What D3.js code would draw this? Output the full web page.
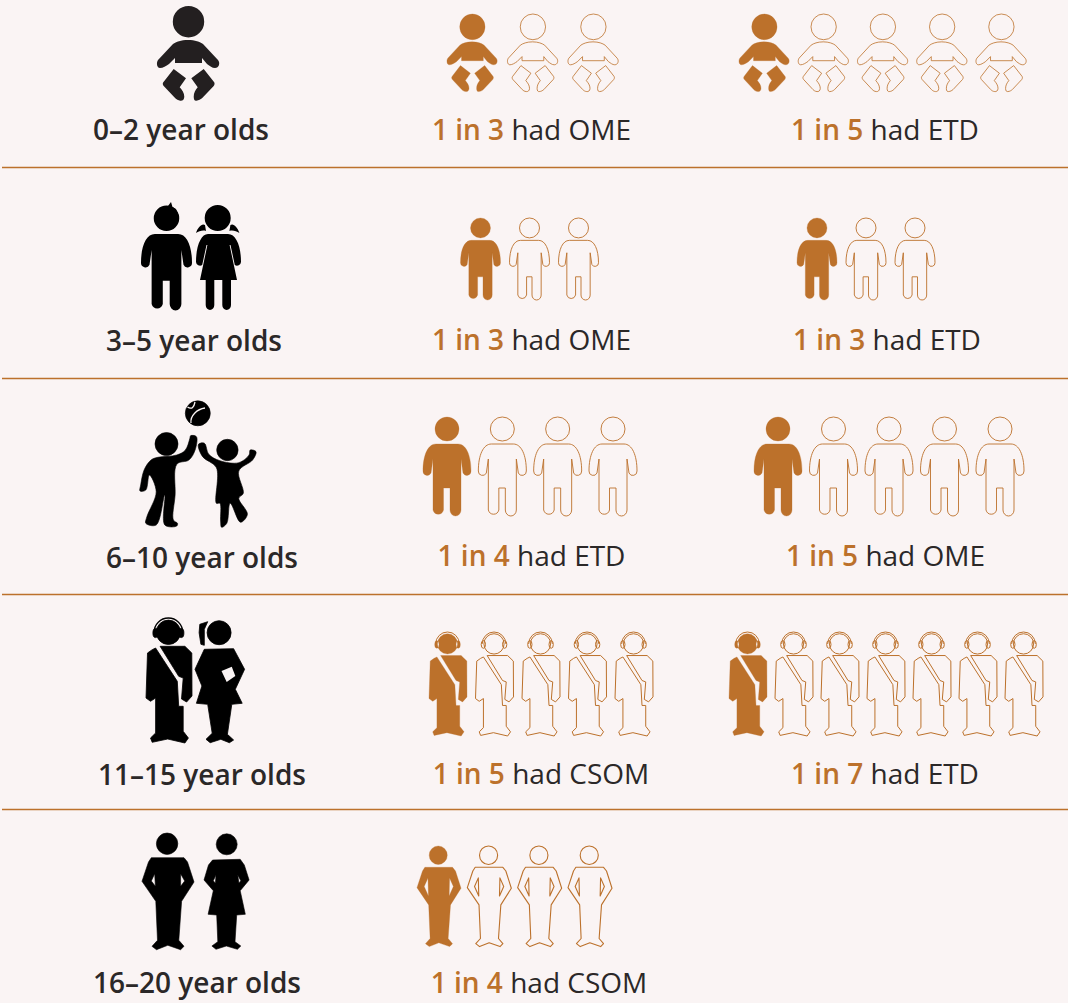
<!DOCTYPE html>
<meta charset="utf-8">
<style>
html, body { margin: 0; padding: 0; background: #faf4f4; }
svg { display: block; }
text { font-family: "Open Sans", "Noto Sans", sans-serif; font-size: 28px; fill: #2b2828; }
.age { font-weight: 600; }
.hit { font-weight: 600; fill: #bc712b; }
</style>
<body>
<script src="https://d3js.org/d3.v7.min.js"></script>
<script>

// data, one entry per age group
var ageLabels = ["0–2 year olds", "3–5 year olds", "6–10 year olds", "11–15 year olds", "16–20 year olds"];
var leftCounts = [3, 3, 4, 5, 4];
var leftConditions = ["OME", "OME", "ETD", "CSOM", "CSOM"];
var rightCounts = [5, 3, 5, 7, null];
var rightConditions = ["ETD", "ETD", "OME", "ETD", null];

var width = 1068, height = 1003;
var orange = "#bc712b", black = "#000", bg = "#faf4f4";

// layout per row, in pixels
var separators = [167, 378, 594, 809];
var rows = [
  {icon: "baby", w: 50, h: 77, top: 14, stroke: 0.8, left: [472, 593], right: [764, 1001], ageX: 181, ageY: 140, textY: 140, leftText: 531.5, rightText: 885},
  {icon: "child", w: 40, h: 82, top: 218, stroke: 0.9, left: [480.5, 578.5], right: [817, 915], ageX: 194, ageY: 351, textY: 350, leftText: 531.5, rightText: 887},
  {icon: "child", w: 48, h: 99, top: 417, stroke: 0.9, left: [447, 613], right: [778, 1000], ageX: 202, ageY: 568, textY: 566, leftText: 531.5, rightText: 885.5},
  {icon: "teen", w: 38, h: 104, top: 632, stroke: 1, left: [448, 634], right: [748, 1024], ageX: 202, ageY: 785, textY: 784, leftText: 541, rightText: 885},
  {icon: "adultSmall", w: 44, h: 100, top: 846, stroke: 1.1, left: [439, 590], right: null, ageX: 197, ageY: 993, textY: 993, leftText: 539, rightText: null}
];

// icon outlines, each in its own local box
function circle(cx, cy, r) {
  return "M" + (cx - r) + "," + cy + "a" + r + "," + r + " 0 1 0 " + (2 * r) + ",0a" + r + "," + r + " 0 1 0 " + (-2 * r) + ",0Z";
}

function ellipse(cx, cy, rx, ry) {
  return "M" + (cx - rx) + "," + cy + "a" + rx + "," + ry + " 0 1 0 " + (2 * rx) + ",0a" + rx + "," + ry + " 0 1 0 " + (-2 * rx) + ",0Z";
}

var smooth = d3.line().curve(d3.curveCatmullRomClosed.alpha(0.5));

var babyPath = circle(31.5, 15.7, 15.7) +
  "M31,34C38,34 43,36 46,38L61,54C63.5,57 62,62 58,62C55,62 53,60 50,58L45,52V57H18V52L12,58C9,60 6,62 3,62C0,62 -1,57 1,54L16,38C19,36 24,34 31,34Z" +
  "M16.7,63L29,72.3L22.7,81.3C25,84 27.3,87 27.3,90.7C27.3,94 25,95 23.3,94.7C21,94.5 19.5,93.5 18.3,92.3L6.7,80C5.5,78.5 5.5,77 6.5,76Z" +
  "M46.7,63L34.3,72.3L40.7,81.3C38.5,84 36.7,87 36.7,90.7C36.7,94 38,95 39.3,94.7C42,94.5 43.5,93.5 45,92.3L56.7,80C57.8,78.5 57.8,77 57,76Z";

var childPath = circle(24, 12, 12) +
  "M13,27H35C43,27 48,38 48,54A4.2,4.2 0 0 1 40,56L38,42V93A5.5,6 0 0 1 27,93V71H20.5V93A5.5,6 0 0 1 10,93V42L8,56A4.2,4.2 0 0 1 0,54C0,38 5,27 13,27Z";

var hairPath = "M18,8L22,4.5L27,4L30,0L31.5,5L35,7L38,14L28,12Z";

var girlPath = circle(21.7, 14, 13) +
  "M12,30H32C40,30 45,42 45,58A4,4 0 0 1 38.8,61L34.5,41L33.6,41L41,76H35V101A4.3,5 0 0 1 26.3,101V76H18.3V101A4.3,5 0 0 1 9.7,101V76H4L11.4,41L10.5,41L6.2,61A4,4 0 0 1 0,58C0,42 5,30 12,30Z" +
  "M0,29C2,23 6,19 9,21L10,27C7,26 3,27 0,29Z" +
  "M43.4,29C41.4,23 37.4,19 34.4,21L33.4,27C36.4,26 40.4,27 43.4,29Z";

var ball = circle(57.8, 12.3, 12.5);
var ballSeams = "M47.5,6C52,9 54,6 55,1M51,22C50,15 57,8 65,7";
var playLeft = [[50.6,34.7],[56.4,35.7],[55.1,49],[48.9,59],[36.8,63.3],[35.1,94],[33.4,119],[37.5,122.3],[36.8,125],[24.8,124],[24.8,94],[16.2,124],[5.8,122.3],[6.9,115.7],[16.2,90.7],[9.3,74],[5.8,89],[0,90],[0.7,84],[4.1,69],[11,59],[17.9,56.3],[36.8,54],[45.4,49],[49.9,37.3]];
var playRight = [[58.5,43.3],[64.4,42.3],[68.8,53.3],[79.9,59.7],[98.8,61.7],[109.1,54],[110.2,49],[116,50.7],[112.6,59],[98.8,70],[103.3,92.3],[98.8,97.3],[107.4,113.3],[100.5,121.3],[90.2,102.3],[86.8,122.3],[81.6,126.3],[80.6,120],[79.9,102.3],[76.4,102.3],[76.4,66.7],[62.6,55.7]];
var playPath = ball + circle(26.5, 43, 11.5) + circle(87.4, 49, 10.7) + smooth(playLeft) + smooth(playRight);

var headphones = "M8.1,14.3A14.3,14.3 0 0 1 36.7,14.3";
var earCups = ellipse(9.5, 15, 2.6, 4.6) + ellipse(35.3, 15, 2.6, 4.6);
var teenBody = "M9.6,30L6.2,31.7L1.5,35L0,80L4.5,83.3L9.6,80V115L4.5,120L6.2,124.3L21.7,121L38.9,125L42.4,120L37.2,113.3V88.3H32.7L31.3,63.3Z" +
  "M14.1,28.3H38.9L45.8,35L46,78L40.6,84L35.5,81L37.2,60L32.7,58.3Z";
var teenPath = circle(22.4, 14.3, 12.2) + earCups + teenBody;

var teenGirlPath = circle(24.1, 11.7, 12) +
  "M4.8,3.3L12.7,0.7L9.3,8.3V24.3L5.9,23.3L4.1,11.7Z" +
  "M9.3,28.3L38.6,27.7L49.6,48.3L40.3,68.3L47.2,82.3L36.8,83.3L32.4,113.3L38.6,119L34.4,121.7L25.8,118.3L15.2,121.7L11,118.3L17.2,112.3L12.7,83.3L1.4,82.3L6.9,65L0,48.3Z";
var bookPath = "M26.5,50L36.8,45.7L40.3,55L31.7,61Z";

var adultBody = circle(25.1, 10.7, 10.7) +
  "M9.3,24.7H42L45.5,29L52,49L39.6,68.3L36.8,107.3L42,113.3L38.6,116.7L25.8,112.3L14.5,116.7L10,113.3L15.5,107.3L13.8,68.3L0,48.3L6.5,29Z";
var adultPath = adultBody + "M12.7,40.7L9.3,48L13.4,53.3ZM38.6,40.7L42.7,48L38.6,53.3Z";
var adultSmallPath = adultBody + "M13,37L8.5,47L13.5,58ZM38.5,37L43,47L38,58Z";

var womanPath = circle(22.7, 10.3, 10.5) +
  "M8.6,26L36.2,25.3L40.3,31L45.1,46L36.2,56.7L41.3,80.3L32.7,81L31,107.7L36.8,112L33.4,115.3L22.4,112L12,115.3L7.9,112L13.8,107.7L12.7,81L4.1,80.3L9.3,56.7L0,46L4.5,31Z" +
  "M12,41L9.3,46.7L11.4,49.3ZM33.7,41L36.8,46.7L35,49.3Z";

// box size of each icon, plus what gets drawn inside it
var icons = {
  baby: {w: 62, h: 94, d: babyPath},
  child: {w: 48, h: 99, d: childPath},
  teen: {w: 46, h: 125, d: teenPath, lines: headphones},
  adultSmall: {w: 52, h: 116, d: adultSmallPath}
};

var svg = d3.select("body").append("svg")
    .attr("width", width)
    .attr("height", height);

svg.selectAll(".sep")
    .data(separators)
  .enter().append("line")
    .attr("class", "sep")
    .attr("x1", 2)
    .attr("x2", width)
    .attr("y1", function(d) { return d + 0.5; })
    .attr("y2", function(d) { return d + 0.5; })
    .attr("stroke", orange)
    .attr("stroke-width", 1.3);

// big black icons
function big(x, y, sx, sy, d, rule) {
  return svg.append("path")
      .attr("transform", "translate(" + x + "," + y + ") scale(" + sx + "," + sy + ")")
      .attr("d", d)
      .attr("fill", black)
      .attr("fill-rule", rule || "nonzero");
}

big(157, 6, 1, 1, babyPath).attr("fill", "#231f20");
big(141, 205.5, 1.0625, 1.06, childPath);
big(141, 202, 1, 1, hairPath);
big(196, 204, 1, 1, girlPath);
big(140, 401, 1, 1, playPath).attr("stroke", black).attr("stroke-width", 0.6).attr("stroke-linejoin", "round");
svg.append("path")
    .attr("transform", "translate(140,401)")
    .attr("d", ballSeams)
    .attr("fill", "none")
    .attr("stroke", bg)
    .attr("stroke-width", 1.3);
big(146, 618, 1, 1, teenPath).attr("stroke", black).attr("stroke-width", 0.8).attr("stroke-linejoin", "round");
svg.append("path")
    .attr("transform", "translate(146,618)")
    .attr("d", headphones)
    .attr("fill", "none")
    .attr("stroke", black)
    .attr("stroke-width", 1.3);
big(195, 621, 1, 1, teenGirlPath).attr("stroke", black).attr("stroke-width", 0.8).attr("stroke-linejoin", "round");
big(195, 621, 1, 1, bookPath).attr("fill", bg);
big(142, 833, 1, 1, adultPath, "evenodd").attr("stroke", black).attr("stroke-width", 0.6).attr("stroke-linejoin", "round");
big(204, 834, 1, 1, womanPath, "evenodd").attr("stroke", black).attr("stroke-width", 0.6).attr("stroke-linejoin", "round");

// pictogram: one filled figure and the rest outlined
function drawPictogram(row, count, ends) {
  var icon = icons[row.icon];
  var x = d3.scaleLinear().domain([0, count - 1]).range(ends);
  var sx = row.w / icon.w, sy = row.h / icon.h;

  var g = svg.append("g").selectAll("g")
      .data(d3.range(count))
    .enter().append("g")
      .attr("transform", function(i) {
        return "translate(" + (x(i) - row.w / 2) + "," + row.top + ") scale(" + sx + "," + sy + ")";
      });

  g.append("path")
      .attr("d", icon.d)
      .attr("fill-rule", "evenodd")
      .attr("vector-effect", "non-scaling-stroke")
      .attr("stroke-linejoin", "round")
      .attr("fill", function(i) { return i === 0 ? orange : "none"; })
      .attr("stroke", orange)
      .attr("stroke-width", function(i) { return i === 0 ? 0.3 : row.stroke; });

  if (icon.lines) {
    g.append("path")
        .attr("d", icon.lines)
        .attr("fill", "none")
        .attr("vector-effect", "non-scaling-stroke")
        .attr("stroke", orange)
        .attr("stroke-width", 1);
  }
}

function statLabel(x, y, count, condition) {
  var t = svg.append("text")
      .attr("x", x)
      .attr("y", y)
      .attr("text-anchor", "middle");
  t.append("tspan").attr("class", "hit").text("1 in " + count);
  t.append("tspan").text(" had " + condition);
}

rows.forEach(function(row, i) {
  svg.append("text")
      .attr("class", "age")
      .attr("x", row.ageX)
      .attr("y", row.ageY)
      .attr("text-anchor", "middle")
      .text(ageLabels[i]);

  drawPictogram(row, leftCounts[i], row.left);
  statLabel(row.leftText, row.textY, leftCounts[i], leftConditions[i]);

  if (rightCounts[i] !== null) {
    drawPictogram(row, rightCounts[i], row.right);
    statLabel(row.rightText, row.textY, rightCounts[i], rightConditions[i]);
  }
});

</script>
